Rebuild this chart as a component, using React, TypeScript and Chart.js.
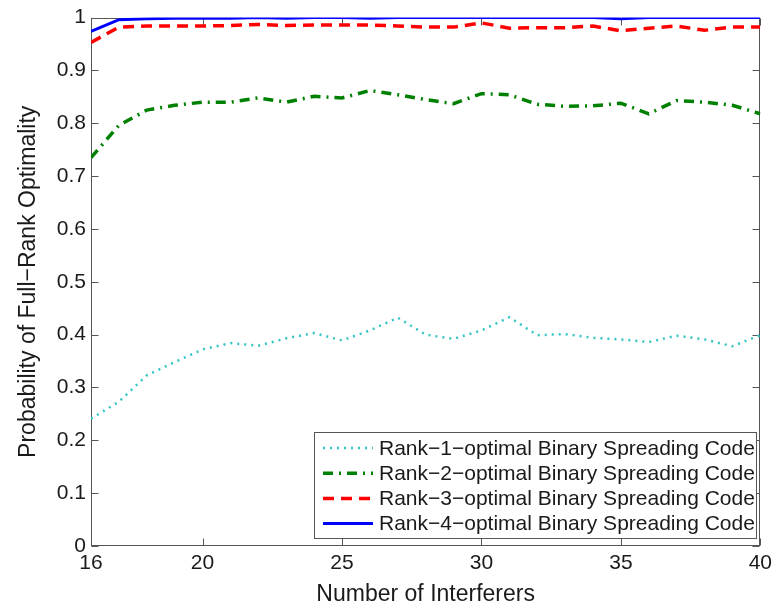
import React, { useEffect, useRef } from "react";
import { Chart, registerables } from "chart.js";
Chart.register(...registerables);

const interferers = [16, 17, 18, 19, 20, 21, 22, 23, 24, 25, 26, 27, 28, 29, 30, 31, 32, 33, 34, 35, 36, 37, 38, 39, 40];
const rank1 = [0.241, 0.273, 0.323, 0.348, 0.372, 0.384, 0.379, 0.393, 0.403, 0.389, 0.408, 0.432, 0.400, 0.392, 0.408, 0.433, 0.399, 0.401, 0.394, 0.391, 0.386, 0.398, 0.391, 0.378, 0.399];
const rank2 = [0.735, 0.796, 0.825, 0.834, 0.840, 0.840, 0.848, 0.840, 0.851, 0.848, 0.862, 0.854, 0.845, 0.837, 0.856, 0.854, 0.836, 0.832, 0.833, 0.838, 0.818, 0.843, 0.840, 0.834, 0.818];
const rank3 = [0.953, 0.982, 0.984, 0.984, 0.984, 0.985, 0.987, 0.985, 0.986, 0.986, 0.986, 0.984, 0.982, 0.982, 0.990, 0.980, 0.981, 0.981, 0.984, 0.975, 0.980, 0.984, 0.976, 0.982, 0.982];
const rank4 = [0.974, 0.996, 0.998, 0.999, 0.999, 0.999, 1.0, 0.999, 1.0, 1.0, 0.999, 1.0, 1.0, 1.0, 1.0, 1.0, 1.0, 1.0, 1.0, 0.998, 1.0, 1.0, 1.0, 1.0, 1.0];
const seriesLabels = [
  "Rank\u22121\u2212optimal Binary Spreading Code",
  "Rank\u22122\u2212optimal Binary Spreading Code",
  "Rank\u22123\u2212optimal Binary Spreading Code",
  "Rank\u22124\u2212optimal Binary Spreading Code",
];
const xTicks = [16, 20, 25, 30, 35, 40];
const yTicks = [0, 0.1, 0.2, 0.3, 0.4, 0.5, 0.6, 0.7, 0.8, 0.9, 1];
const xTitle = "Number of Interferers";
const yTitle = "Probability of Full\u2212Rank Optimality";

const FONT = "'Liberation Sans', Arial, Helvetica, sans-serif";
const TEXT = "#1a1a1a";

const framePlugin = {
  id: "frame",
  beforeDatasetsDraw(chart: any) {
    const { ctx, chartArea, scales } = chart;
    const { left, right, top, bottom } = chartArea;
    ctx.save();
    ctx.strokeStyle = "#555";
    ctx.lineWidth = 1;
    const L = Math.round(left) + 0.5, R = Math.round(right) - 0.5, T = Math.round(top) + 0.5, B = Math.round(bottom) - 0.5;
    ctx.strokeRect(L, T, R - L, B - T);
    const tl = 7;
    ctx.beginPath();
    for (const v of xTicks) {
      const px = Math.round(scales.x.getPixelForValue(v)) + 0.5;
      ctx.moveTo(px, B); ctx.lineTo(px, B - tl);
      ctx.moveTo(px, T); ctx.lineTo(px, T + tl);
    }
    for (const v of yTicks) {
      const py = Math.round(scales.y.getPixelForValue(v)) + 0.5;
      ctx.moveTo(L, py); ctx.lineTo(L + tl, py);
      ctx.moveTo(R, py); ctx.lineTo(R - tl, py);
    }
    ctx.stroke();
    ctx.restore();
  },
};

const legendPlugin = {
  id: "boxLegend",
  afterDatasetsDraw(chart: any) {
    const { ctx } = chart;
    const bx = 314, by = 432, bw = 442, bh = 106;
    ctx.save();
    ctx.fillStyle = "#fff";
    ctx.fillRect(bx, by, bw, bh);
    ctx.strokeStyle = "#555";
    ctx.lineWidth = 1;
    ctx.strokeRect(bx + 0.5, by + 0.5, bw, bh);
    ctx.font = `21px ${FONT}`;
    ctx.textBaseline = "middle";
    ctx.fillStyle = TEXT;
    chart.data.datasets.forEach((ds: any, i: number) => {
      const cy = by + 16 + i * 25.2;
      ctx.save();
      ctx.strokeStyle = ds.borderColor;
      ctx.lineWidth = ds.borderWidth;
      ctx.setLineDash(ds.borderDash || []);
      ctx.beginPath();
      ctx.moveTo(bx + 9, cy);
      ctx.lineTo(bx + 59, cy);
      ctx.stroke();
      ctx.restore();
      ctx.fillText(ds.label, bx + 65, cy + 1);
    });
    ctx.restore();
  },
};

export default function App() {
  const ref = useRef<HTMLCanvasElement | null>(null);
  useEffect(() => {
    document.body.style.margin = "0";
    const toPts = (arr: number[]) => arr.map((v, i) => ({ x: interferers[i], y: v }));
    const chart = new Chart(ref.current as HTMLCanvasElement, {
      type: "line",
      data: {
        datasets: [
          { label: seriesLabels[0], data: toPts(rank1), borderColor: "#33c4c4", borderWidth: 2.5, borderDash: [2, 5], pointRadius: 0, tension: 0, fill: false },
          { label: seriesLabels[1], data: toPts(rank2), borderColor: "#008000", borderWidth: 3.5, borderDash: [10, 6, 2, 6], pointRadius: 0, tension: 0, fill: false },
          { label: seriesLabels[2], data: toPts(rank3), borderColor: "#ff0000", borderWidth: 3.5, borderDash: [11, 7], pointRadius: 0, tension: 0, fill: false },
          { label: seriesLabels[3], data: toPts(rank4), borderColor: "#0000ff", borderWidth: 3, pointRadius: 0, tension: 0, fill: false },
        ],
      },
      options: {
        responsive: false,
        animation: false,
        layout: { padding: { left: 0, right: 13, top: 17, bottom: 0 } },
        plugins: { legend: { display: false }, tooltip: { enabled: false } },
        scales: {
          x: {
            type: "linear",
            min: 16,
            max: 40,
            grid: { display: false, drawTicks: false },
            border: { display: false },
            afterBuildTicks: (s: any) => { s.ticks = xTicks.map((v) => ({ value: v })); },
            afterFit: (s: any) => { s.height = 62; },
            ticks: { font: { family: FONT, size: 21 }, color: TEXT, padding: 5, maxRotation: 0, autoSkip: false, callback: (v: any) => String(v) },
            title: { display: true, text: xTitle, font: { family: FONT, size: 23 }, color: TEXT, padding: { top: 0, bottom: 0 } },
          },
          y: {
            min: 0,
            max: 1,
            grid: { display: false, drawTicks: false },
            border: { display: false },
            afterBuildTicks: (s: any) => { s.ticks = yTicks.map((v) => ({ value: v })); },
            afterFit: (s: any) => { s.width = 91; },
            ticks: { font: { family: FONT, size: 21 }, color: TEXT, padding: 5, autoSkip: false, callback: (v: any) => String(Math.round(Number(v) * 10) / 10) },
            title: { display: true, text: yTitle, font: { family: FONT, size: 23 }, color: TEXT, padding: { top: 15, bottom: 0 } },
          },
        },
      },
      plugins: [framePlugin, legendPlugin],
    } as any);
    return () => chart.destroy();
  }, []);
  return (
    <div style={{ width: 777, height: 608 }}>
      <canvas ref={ref} width={777} height={608} style={{ display: "block" }} />
    </div>
  );
}
